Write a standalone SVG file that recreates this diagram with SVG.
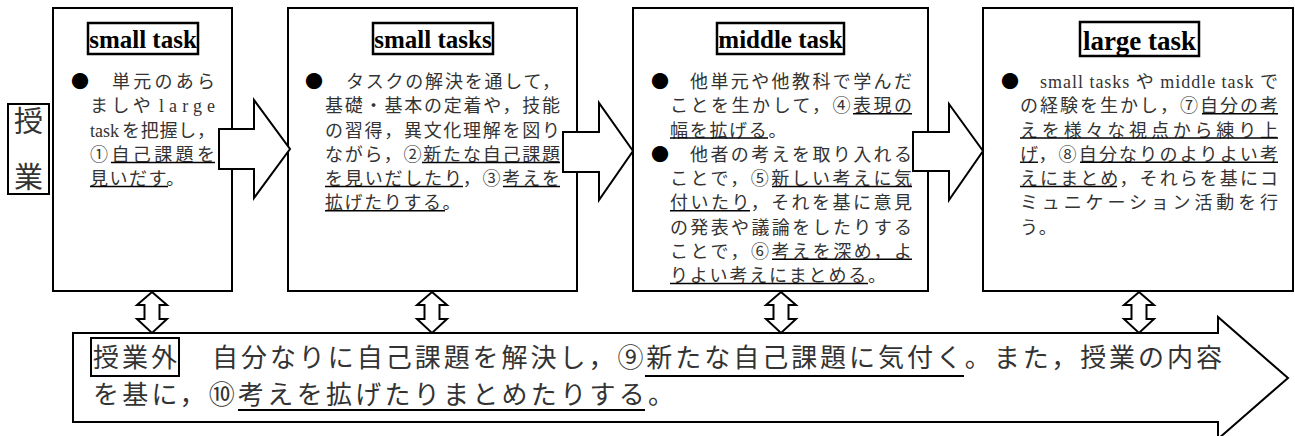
<svg xmlns="http://www.w3.org/2000/svg" width="1295" height="436" viewBox="0 0 1295 436">
<style>
.box{fill:#fff;stroke:#000;stroke-width:2}
.ttlbox{fill:none;stroke:#000;stroke-width:2.5}
.ttl{font-family:"Liberation Serif","Times New Roman",serif;font-weight:bold;font-size:25px;text-anchor:middle;fill:#000}
.jp{font-family:"Liberation Serif","Noto Sans CJK JP",serif;font-size:18px;fill:#333}
.bul{font-family:"Noto Sans CJK JP",sans-serif;font-size:18px;fill:#000}
.big{font-family:"Noto Sans CJK JP",sans-serif;font-size:26px;fill:#333}
.ul{stroke:#000;stroke-width:1.4}
.arr{fill:#fff;stroke:#000;stroke-width:2;stroke-linejoin:miter}
.dbl{fill:#fff;stroke:#000;stroke-width:2;stroke-linejoin:miter}
</style>
<rect width="1295" height="436" fill="#fff"/>

<g id="label-jugyo">
<rect x="8" y="104" width="41" height="90" class="box"/>
<text x="28.5" y="132" text-anchor="middle" style="font-family:'Noto Sans CJK JP',sans-serif;font-size:29px;fill:#333">授</text>
<text x="28.5" y="188" text-anchor="middle" style="font-family:'Noto Sans CJK JP',sans-serif;font-size:29px;fill:#333">業</text>
</g>

<g id="n1">
<rect x="53" y="8" width="179" height="283" class="box"/>
<rect x="88" y="23" width="110" height="31" class="ttlbox"/>
<text x="143" y="48" class="ttl">small task</text>
<text x="71" y="88" class="bul">●</text>
<text x="112" y="88" class="jp" textLength="103" lengthAdjust="spacing">単元のあら</text>
<text x="90" y="112.25" class="jp" letter-spacing="3.5">ましや</text>
<text x="159" y="112.25" class="jp" textLength="56" lengthAdjust="spacing">large</text>
<text x="90" y="136.5" class="jp">task</text>
<text x="122" y="136.5" class="jp" textLength="93" lengthAdjust="spacing">を把握し，</text>
<text x="90" y="160.75" class="jp" textLength="125" lengthAdjust="spacing">①自己課題を</text>
<text x="90" y="185" class="jp" letter-spacing="1.5">見いだす。</text>
<line x1="111" y1="162.5" x2="215" y2="162.5" class="ul"/>
<line x1="90" y1="186.5" x2="168" y2="186.5" class="ul"/>
</g>

<g id="n2">
<rect x="288" y="8" width="289" height="283" class="box"/>
<rect x="373" y="23" width="120" height="31" class="ttlbox"/>
<text x="433" y="48" class="ttl">small tasks</text>
<text x="305" y="88" class="bul">●</text>
<text x="346" y="88" class="jp" textLength="214" lengthAdjust="spacing">タスクの解決を通して，</text>
<text x="325" y="112.25" class="jp" textLength="235" lengthAdjust="spacing">基礎・基本の定着や，技能</text>
<text x="325" y="136.5" class="jp" textLength="235" lengthAdjust="spacing">の習得，異文化理解を図り</text>
<text x="325" y="160.75" class="jp" textLength="235" lengthAdjust="spacing">ながら，②新たな自己課題</text>
<text x="325" y="185" class="jp" textLength="235" lengthAdjust="spacing">を見いだしたり，③考えを</text>
<text x="325" y="209.25" class="jp" letter-spacing="1.6">拡げたりする。</text>
<line x1="422" y1="162.5" x2="560" y2="162.5" class="ul"/>
<line x1="325" y1="186.5" x2="463" y2="186.5" class="ul"/>
<line x1="503" y1="186.5" x2="560" y2="186.5" class="ul"/>
<line x1="325" y1="210.75" x2="445" y2="210.75" class="ul"/>
</g>

<g id="n3">
<rect x="633" y="8" width="295" height="283" class="box"/>
<rect x="717" y="23" width="127" height="31" class="ttlbox"/>
<text x="780.5" y="48" class="ttl">middle task</text>
<text x="651" y="88" class="bul">●</text>
<text x="690" y="88" class="jp" textLength="222" lengthAdjust="spacing">他単元や他教科で学んだ</text>
<text x="670" y="112.25" class="jp" textLength="242" lengthAdjust="spacing">ことを生かして，④表現の</text>
<text x="670" y="136.5" class="jp" letter-spacing="1.7">幅を拡げる。</text>
<text x="651" y="160.75" class="bul">●</text>
<text x="690" y="160.75" class="jp" textLength="222" lengthAdjust="spacing">他者の考えを取り入れる</text>
<text x="670" y="185" class="jp" textLength="242" lengthAdjust="spacing">ことで，⑤新しい考えに気</text>
<text x="670" y="209.25" class="jp" textLength="242" lengthAdjust="spacing">付いたり，それを基に意見</text>
<text x="670" y="233.5" class="jp" textLength="242" lengthAdjust="spacing">の発表や議論をしたりする</text>
<text x="670" y="257.75" class="jp" textLength="242" lengthAdjust="spacing">ことで，⑥考えを深め，よ</text>
<text x="670" y="282" class="jp" letter-spacing="1.8">りよい考えにまとめる。</text>
<line x1="853" y1="113.75" x2="912" y2="113.75" class="ul"/>
<line x1="670" y1="138" x2="768" y2="138" class="ul"/>
<line x1="772" y1="186.5" x2="912" y2="186.5" class="ul"/>
<line x1="670" y1="210.75" x2="750" y2="210.75" class="ul"/>
<line x1="772" y1="259.25" x2="912" y2="259.25" class="ul"/>
<line x1="670" y1="283.5" x2="868" y2="283.5" class="ul"/>
</g>

<g id="n4">
<rect x="983" y="8" width="310" height="283" class="box"/>
<rect x="1080" y="22" width="119" height="34" class="ttlbox"/>
<text x="1139.5" y="50" class="ttl" style="font-size:27px">large task</text>
<text x="1001" y="88" class="bul">●</text>
<text x="1040" y="88" class="jp" textLength="238" lengthAdjust="spacing">small tasks や middle task で</text>
<text x="1020" y="112.25" class="jp" textLength="258" lengthAdjust="spacing">の経験を生かし，⑦自分の考</text>
<text x="1020" y="136.5" class="jp" textLength="258" lengthAdjust="spacing">えを様々な視点から練り上</text>
<text x="1020" y="160.75" class="jp" textLength="258" lengthAdjust="spacing">げ，⑧自分なりのよりよい考</text>
<text x="1020" y="185" class="jp" textLength="258" lengthAdjust="spacing">えにまとめ，それらを基にコ</text>
<text x="1020" y="209.25" class="jp" textLength="258" lengthAdjust="spacing">ミュニケーション活動を行</text>
<text x="1020" y="233.5" class="jp" letter-spacing="1.8">う。</text>
<line x1="1202" y1="113.75" x2="1278" y2="113.75" class="ul"/>
<line x1="1020" y1="138" x2="1278" y2="138" class="ul"/>
<line x1="1020" y1="162.25" x2="1038" y2="162.25" class="ul"/>
<line x1="1080" y1="162.25" x2="1278" y2="162.25" class="ul"/>
<line x1="1020" y1="186.5" x2="1117" y2="186.5" class="ul"/>
</g>

<g id="n5">
<polygon points="73,333 1218,333 1218,317 1288,378 1218,439 1218,422 73,422" class="arr"/>
<rect x="91" y="338" width="88" height="38" fill="none" stroke="#000" stroke-width="2"/>
<text x="93" y="366.5" class="big" textLength="84" lengthAdjust="spacing">授業外</text>
<text x="212" y="366.5" class="big" textLength="1010" lengthAdjust="spacing">自分なりに自己課題を解決し，⑨新たな自己課題に気付く。また，授業の内容</text>
<text x="93" y="404" class="big" textLength="581" lengthAdjust="spacing">を基に，⑩考えを拡げたりまとめたりする。</text>
<line x1="645" y1="376" x2="964" y2="376" class="ul" style="stroke-width:1.8"/>
<line x1="238" y1="410" x2="645" y2="410" class="ul" style="stroke-width:1.8"/>
</g>

<g id="connectors">
<polygon points="219,129 254,129 254,100 290,149 254,198 254,169 219,169" class="arr"/>
<polygon points="563,132 599,132 599,103 633,151 599,200 599,172 563,172" class="arr"/>
<polygon points="913,132 949,132 949,104 983,151 949,200 949,171 913,171" class="arr"/>
<polygon points="152,292 167,305 159.5,305 159.5,319 167,319 152,333 137,319 144.5,319 144.5,305 137,305" class="dbl"/>
<polygon points="432,292 447,305 439.5,305 439.5,319 447,319 432,333 417,319 424.5,319 424.5,305 417,305" class="dbl"/>
<polygon points="781,292 796,305 788.5,305 788.5,319 796,319 781,333 766,319 773.5,319 773.5,305 766,305" class="dbl"/>
<polygon points="1139,292 1154,305 1146.5,305 1146.5,319 1154,319 1139,333 1124,319 1131.5,319 1131.5,305 1124,305" class="dbl"/>
</g>
</svg>
